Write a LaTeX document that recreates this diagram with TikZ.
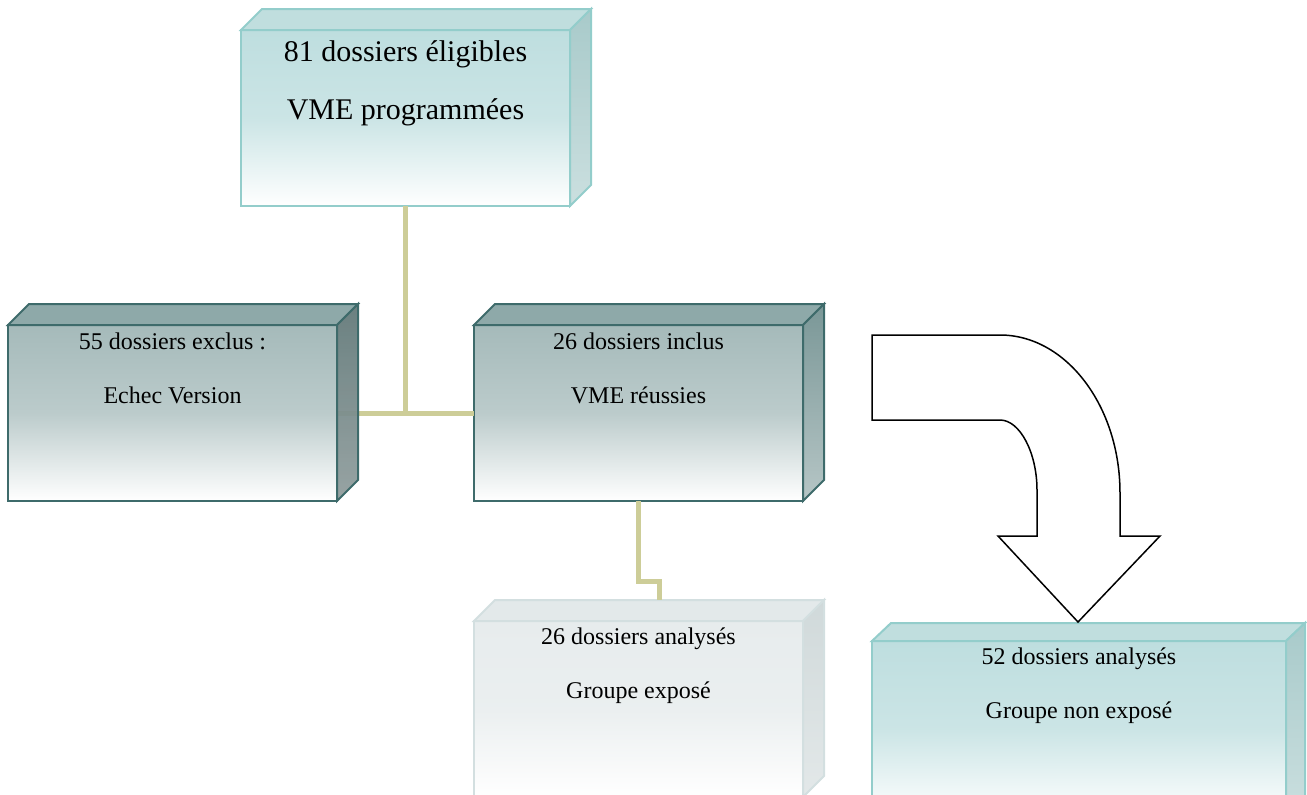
\documentclass[tikz,border=0pt]{standalone}
\usepackage{fontspec}
\setmainfont{Liberation Serif}
\usetikzlibrary{calc}

\definecolor{khaki}{HTML}{CDCD98}
\definecolor{tealbord}{HTML}{93CDCB}
\definecolor{tealfront}{HTML}{BEDEDF}
\definecolor{tealtop}{HTML}{C0DEDE}
\definecolor{tealcote}{HTML}{A8CACA}
\definecolor{grisbord}{HTML}{3E6B6B}
\definecolor{grisfront}{HTML}{A5BABA}
\definecolor{gristop}{HTML}{8EA9A9}
\definecolor{griscote}{HTML}{7A9797}
\definecolor{palebord}{HTML}{D3DFE0}
\definecolor{palefront}{HTML}{E7ECED}
\definecolor{paletop}{HTML}{E3E9EA}
\definecolor{palecote}{HTML}{D0D9DA}

\tikzstyle{boite}=[rectangle,line width=1pt,outer sep=0pt,inner sep=0pt,minimum width=164.5pt,minimum height=88pt]
\tikzstyle{clair}=[draw=tealbord,top color=tealfront,bottom color=white,middle color=tealfront!80!white]
\tikzstyle{fonce}=[draw=grisbord,top color=grisfront,bottom color=white,middle color=grisfront!75!white]
\tikzstyle{pale}=[draw=palebord,top color=palefront,bottom color=white,middle color=palefront!85!white]
\tikzstyle{txt}=[anchor=base,align=center,font=\fontsize{12}{27}\selectfont,inner sep=0pt]
\tikzstyle{lien}=[draw=khaki,line width=2.5pt]

\begin{document}
\begin{tikzpicture}[x=0.5pt,y=-0.5pt]
\useasboundingbox (0,0) rectangle (1307,794);
% boite du haut
\node[boite,clair] (elig) at (405.5,118) {};
\filldraw[draw=tealbord,fill=tealtop,line width=1pt] (elig.north west) -- ++(21,-21) -- ++(329,0) -- (elig.north east) -- cycle;
\filldraw[draw=tealbord,top color=tealcote,bottom color=tealcote!60!white,line width=1pt] (elig.north east) -- ++(21,-21) -- ++(0,176) -- (elig.south east) -- cycle;
\node[txt,font=\fontsize{15}{29}\selectfont] (eligt) at (405.5,119) {81 dossiers éligibles\\VME programmées};
% exclus / inclus
\node[boite,fonce] (excl) at (172.5,413) {};
\filldraw[draw=grisbord,fill=gristop,line width=1pt] (excl.north west) -- ++(21,-21) -- ++(329,0) -- (excl.north east) -- cycle;
\node[txt] (exclt) at (172.5,403) {55 dossiers exclus :\\Echec Version};
\node[boite,fonce] (incl) at (638.5,413) {};
\filldraw[draw=grisbord,fill=gristop,line width=1pt] (incl.north west) -- ++(21,-21) -- ++(329,0) -- (incl.north east) -- cycle;
\filldraw[draw=grisbord,top color=griscote,bottom color=griscote!55!white,line width=1pt] (incl.north east) -- ++(21,-21) -- ++(0,176) -- (incl.south east) -- cycle;
\node[txt] (inclt) at (638.5,403) {26 dossiers inclus\\VME réussies};
% groupes
\node[boite,pale] (expo) at (638.5,709) {};
\filldraw[draw=palebord,fill=paletop,line width=1pt] (expo.north west) -- ++(21,-21) -- ++(329,0) -- (expo.north east) -- cycle;
\filldraw[draw=palebord,top color=palecote,bottom color=palecote!60!white,line width=1pt] (expo.north east) -- ++(21,-21) -- ++(0,176) -- (expo.south east) -- cycle;
\node[txt] (expot) at (638.5,698) {26 dossiers analysés\\Groupe exposé};
\node[boite,clair,minimum width=207pt] (nexp) at (1079,729) {};
\filldraw[draw=tealbord,fill=tealtop,line width=1pt] (nexp.north west) -- ++(19,-18) -- ++(414,0) -- (nexp.north east) -- cycle;
\filldraw[draw=tealbord,top color=tealcote,bottom color=tealcote!60!white,line width=1pt] (nexp.north east) -- ++(19,-18) -- ++(0,176) -- (nexp.south east) -- cycle;
\node[txt] (nexpt) at (1079,718) {52 dossiers analysés\\Groupe non exposé};
% liens
\coordinate (hexpo) at ($(expo.north)+(21,-21)$);
\draw[lien] (elig.south) -- (elig.south |- incl.west);
\draw[lien] (excl.east) -- (incl.west);
\draw[lien] (incl.south) -- ++(0,80) -| (hexpo);
% cote de la boite exclus, par-dessus le lien
\filldraw[draw=grisbord,top color=griscote,bottom color=griscote!55!white,fill opacity=.75,line width=1pt] (excl.north east) -- ++(21,-21) -- ++(0,176) -- (excl.south east) -- cycle;
% fleche courbe
\draw[line width=0.75pt,fill=white] (872,335) -- (1000,335) .. controls (1066,335) and (1120,406) .. (1120,493) -- (1120,536) -- (1160,536) -- (1078,622) -- (998,536) -- (1037,536) -- (1037,490) .. controls (1037,453) and (1020,420) .. (1000,420) -- (872,420) -- cycle;
\end{tikzpicture}
\end{document}
